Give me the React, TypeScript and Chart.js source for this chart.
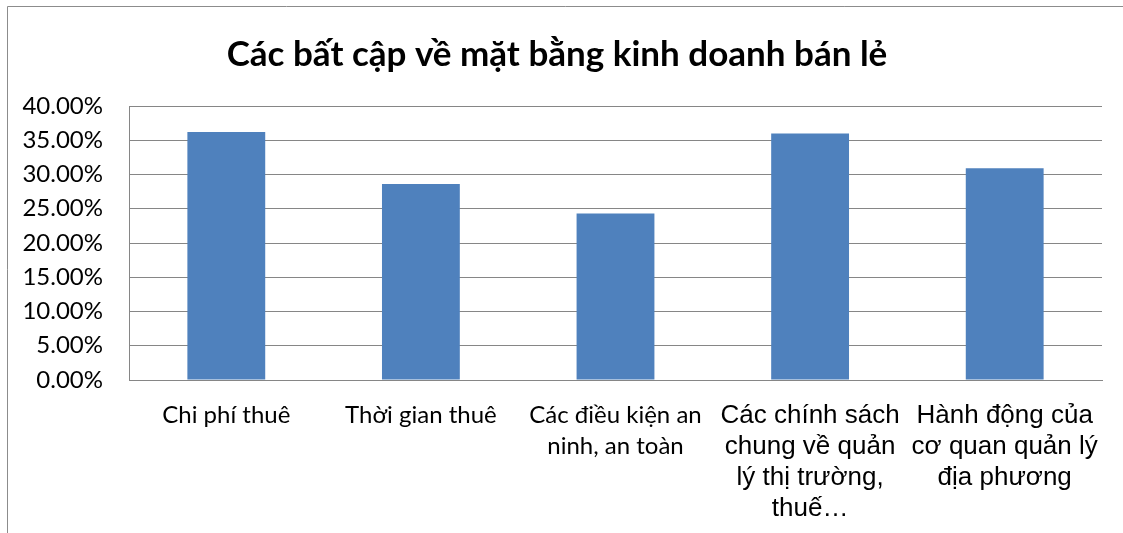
import React, { useEffect, useRef } from "react";
import { Chart, registerables } from "chart.js";

Chart.register(...registerables);

const TITLE = "Các bất cập về mặt bằng kinh doanh bán lẻ";
const CATEGORIES: string[][] = [
  ["Chi phí thuê"],
  ["Thời gian thuê"],
  ["Các điều kiện an", "ninh, an toàn"],
  ["Các chính sách", "chung về quản", "lý thị trường,", "thuế…"],
  ["Hành động của", "cơ quan quản lý", "địa phương"],
];
const VALUES: number[] = [36.2, 28.6, 24.3, 36.0, 30.9];
const Y_MIN = 0;
const Y_MAX = 40;
const Y_STEP = 5;

const CALIBRI_LIKE = "Lato, 'Open Sans', sans-serif";
const ARIAL_LIKE = "'Liberation Sans', Arial, sans-serif";

const frame = {
  id: "frame",
  beforeDraw(chart: any) {
    const { ctx, width, height } = chart;
    ctx.save();
    ctx.fillStyle = "#ffffff";
    ctx.fillRect(0, 0, width, height);
    ctx.strokeStyle = "#8c8c8c";
    ctx.lineWidth = 1;
    ctx.beginPath();
    ctx.moveTo(7.5, height);
    ctx.lineTo(7.5, 6.5);
    ctx.lineTo(width, 6.5);
    ctx.stroke();
    ctx.restore();
  },
};

export default function App() {
  const ref = useRef<HTMLCanvasElement | null>(null);
  useEffect(() => {
    if (!ref.current) return;
    const chart = new Chart(ref.current, {
      type: "bar",
      data: {
        labels: CATEGORIES,
        datasets: [
          {
            data: VALUES,
            backgroundColor: "#4F81BD",
            borderWidth: 0,
            categoryPercentage: 1,
            barPercentage: 0.4,
          },
        ],
      },
      options: {
        responsive: false,
        animation: false,
        layout: { padding: { left: 12, right: 21, top: 0, bottom: 0 } },
        plugins: {
          legend: { display: false },
          tooltip: { enabled: false },
          title: {
            display: true,
            text: TITLE,
            color: "#000000",
            font: { family: CALIBRI_LIKE, size: 35, weight: "bold", lineHeight: 1.2 },
            padding: { top: 34, bottom: 30 },
          },
        },
        scales: {
          x: {
            grid: { display: false, drawTicks: false },
            border: { display: true, color: "#868686" },
            ticks: {
              autoSkip: false,
              maxRotation: 0,
              minRotation: 0,
              padding: 20,
              color: "#000000",
              font: (c: any) =>
                c.index >= 3
                  ? { family: ARIAL_LIKE, size: 26, lineHeight: 1.2 }
                  : { family: CALIBRI_LIKE, size: 24, lineHeight: 1.28 },
            },
            afterFit: (s: any) => {
              s.height = 153;
            },
          },
          y: {
            min: Y_MIN,
            max: Y_MAX,
            grid: { color: "#868686", lineWidth: 1, drawTicks: false },
            border: { display: true, color: "#868686" },
            ticks: {
              stepSize: Y_STEP,
              padding: 26,
              color: "#000000",
              font: { family: CALIBRI_LIKE, size: 24 },
              callback: (v: any) => Number(v).toFixed(2) + "%",
            },
            afterFit: (s: any) => {
              s.width = 117;
            },
          },
        },
      },
      plugins: [frame],
    });
    return () => chart.destroy();
  }, []);
  return (
    <div style={{ position: "fixed", left: 0, top: 0, width: 1123, height: 533 }}>
      <canvas ref={ref} width={1123} height={533} style={{ display: "block" }} />
    </div>
  );
}
